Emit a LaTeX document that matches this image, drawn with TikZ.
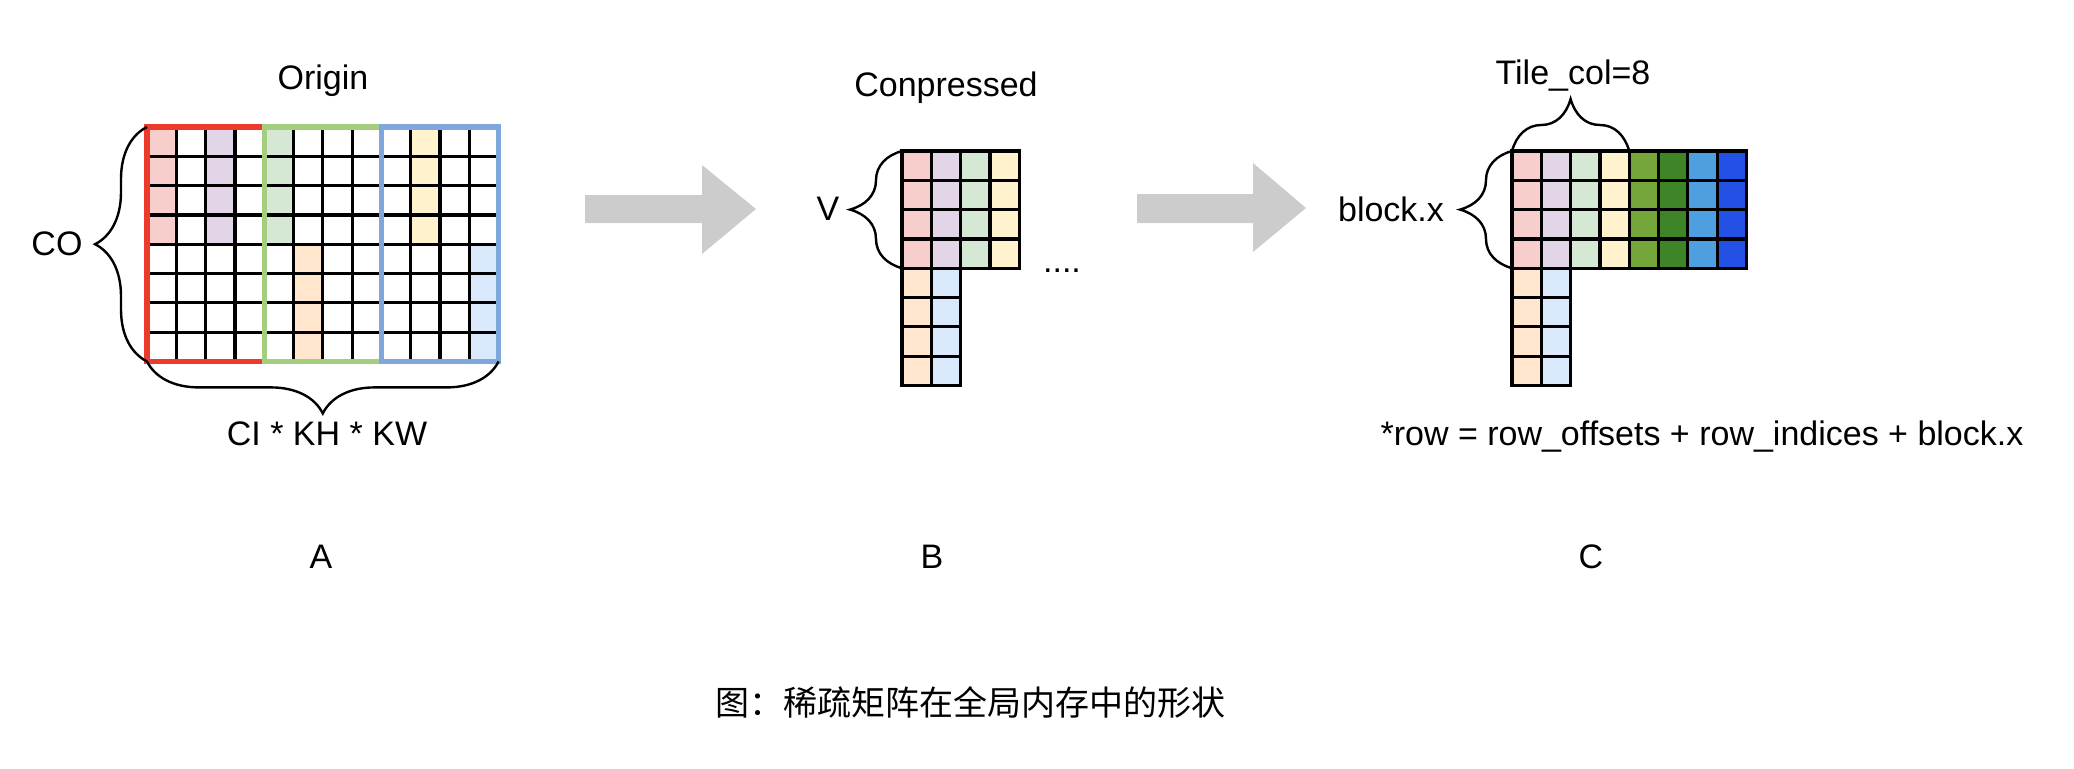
\documentclass[tikz,border=0pt]{standalone}
\usepackage{fontspec}
\setmainfont{Liberation Sans}
\newfontfamily\cjk{Noto Sans CJK SC}
\usepackage{tikz}
\usetikzlibrary{decorations.pathreplacing}

% cell colours
\definecolor{cpink}{HTML}{F8CECC}
\definecolor{cpurple}{HTML}{E1D5E7}
\definecolor{cgreen}{HTML}{D5E8D4}
\definecolor{cyellow}{HTML}{FFF2CC}
\definecolor{corange}{HTML}{FFE6CC}
\definecolor{cblue}{HTML}{DAE8FC}
\definecolor{dgreen}{HTML}{74A63A}
\definecolor{ddgreen}{HTML}{3D8526}
\definecolor{dblue}{HTML}{4D9FDF}
\definecolor{ddblue}{HTML}{2350E5}
% outline colours
\definecolor{ored}{HTML}{EE3A2B}
\definecolor{ogreen}{HTML}{A5CD80}
\definecolor{oblue}{HTML}{7FA6DD}
\definecolor{arrowgray}{HTML}{CCCCCC}

\tikzset{
	gridline/.style={line width=1.6pt},
	cellbox/.style={draw, line width=1.6pt},
	groupbox/.style={line width=2.6pt},
	curly/.style={decorate, decoration={brace, amplitude=26pt}, line width=1.2pt},
	txt/.style={font=\fontsize{17}{20}\selectfont, anchor=base, inner sep=0pt},
	blockarrow/.style={fill=arrowgray},
}

\def\cs{29.3}

\begin{document}
\begin{tikzpicture}[x=0.5pt, y=0.5pt]
	\useasboundingbox (0,0) rectangle (2074,768);

	% A: original matrix
	\begin{scope}[shift={(147,641)}]
		% non-zero columns
		\fill[cpink] (0,0) rectangle (\cs,-4*\cs);
		\fill[cpurple] (2*\cs,0) rectangle (3*\cs,-4*\cs);
		\fill[cgreen] (4*\cs,0) rectangle (5*\cs,-4*\cs);
		\fill[cyellow] (9*\cs,0) rectangle (10*\cs,-4*\cs);
		\fill[corange] (5*\cs,-4*\cs) rectangle (6*\cs,-8*\cs);
		\fill[cblue] (11*\cs,-4*\cs) rectangle (12*\cs,-8*\cs);
		% grid
		\foreach \i in {0,...,12}
			\draw[gridline] (\i*\cs,0) -- (\i*\cs,-8*\cs);
		\foreach \j in {0,...,8}
			\draw[gridline] (0,-\j*\cs) -- (12*\cs,-\j*\cs);
		% groups
		\draw[groupbox, ored] (0,0) rectangle (4*\cs,-8*\cs);
		\draw[groupbox, ogreen] (4*\cs,0) rectangle (8*\cs,-8*\cs);
		\draw[groupbox, oblue] (8*\cs,0) rectangle (12*\cs,-8*\cs);
		\coordinate (A-tl) at (0,0);
		\coordinate (A-bl) at (0,-8*\cs);
		\coordinate (A-br) at (12*\cs,-8*\cs);
	\end{scope}
	\draw[curly] (A-bl) -- (A-tl);
	\draw[curly] (A-br) -- (A-bl);
	\node[txt] (origin) at (323,678) {Origin};
	\node[txt] (co) at (57,513) {CO};
	\node[txt] (cikhkw) at (327,323) {CI * KH * KW};
	\node[txt] (labA) at (321,200) {A};

	% arrow A -> B
	\fill[blockarrow] (585,573) -- (702,573) -- (702,603) -- (756,559)
		-- (702,514) -- (702,545) -- (585,545) -- cycle;

	% B: compressed values
	\begin{scope}[shift={(902,617)}]
		\foreach \c [count=\i from 0] in {cpink,cpurple,cgreen,cyellow}
			\foreach \r in {0,...,3}
				\draw[cellbox, fill=\c] (\i*\cs,-\r*\cs) rectangle ++(\cs,-\cs);
		\foreach \c [count=\i from 0] in {corange,cblue}
			\foreach \r in {4,...,7}
				\draw[cellbox, fill=\c] (\i*\cs,-\r*\cs) rectangle ++(\cs,-\cs);
		\coordinate (B-tl) at (0,0);
		\coordinate (B-ml) at (0,-4*\cs);
	\end{scope}
	\draw[curly] (B-ml) -- (B-tl);
	\node[txt] (conpressed) at (946,671) {Conpressed};
	\node[txt] (v) at (828,548) {V};
	\node[txt] (dots) at (1062,496) {....};
	\node[txt] (labB) at (932,200) {B};

	% arrow B -> C
	\fill[blockarrow] (1137,574) -- (1253,574) -- (1253,605) -- (1306,560)
		-- (1253,516) -- (1253,545) -- (1137,545) -- cycle;

	% C: tile of block.x
	\begin{scope}[shift={(1512,617)}]
		\foreach \c [count=\i from 0] in {cpink,cpurple,cgreen,cyellow,dgreen,ddgreen,dblue,ddblue}
			\foreach \r in {0,...,3}
				\draw[cellbox, fill=\c] (\i*\cs,-\r*\cs) rectangle ++(\cs,-\cs);
		\foreach \c [count=\i from 0] in {corange,cblue}
			\foreach \r in {4,...,7}
				\draw[cellbox, fill=\c] (\i*\cs,-\r*\cs) rectangle ++(\cs,-\cs);
		\coordinate (C-tl) at (0,0);
		\coordinate (C-t4) at (4*\cs,0);
		\coordinate (C-ml) at (0,-4*\cs);
	\end{scope}
	\draw[curly] (C-ml) -- (C-tl);
	\draw[curly] (C-tl) -- (C-t4);
	\node[txt] (tilecol) at (1573,683) {Tile\_col=8};
	\node[txt] (blockx) at (1391,547) {block.x};
	\node[txt] (rowexpr) at (1702,323) {*row = row\_offsets + row\_indices + block.x};
	\node[txt] (labC) at (1591,200) {C};

	% caption
	\node[txt, font=\cjk\fontsize{17}{20}\selectfont] (caption) at (970,53) {图：稀疏矩阵在全局内存中的形状};
\end{tikzpicture}
\end{document}
